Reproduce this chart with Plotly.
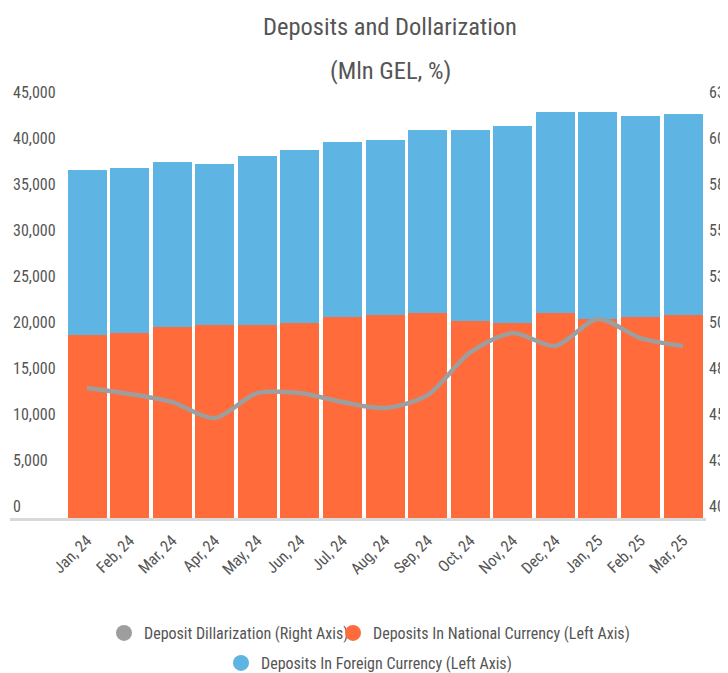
import plotly.graph_objects as go

months = ["Jan, 24", "Feb, 24", "Mar, 24", "Apr, 24", "May, 24", "Jun, 24", "Jul, 24",
          "Aug, 24", "Sep, 24", "Oct, 24", "Nov, 24", "Dec, 24", "Jan, 25", "Feb, 25", "Mar, 25"]
national = [19890, 20110, 20760, 20980, 20980, 21200, 21850, 22070, 22280, 21410, 21200,
            22280, 21630, 21850, 22070]
foreign = [17940, 17930, 17940, 17500, 18370, 18800, 19020, 19020, 19890, 20760, 21410,
           21850, 22500, 21850, 21840]
dollarization = [47.07, 46.74, 46.30, 45.43, 46.79, 46.79, 46.30, 45.98, 46.68, 49.0,
                 50.05, 49.35, 50.82, 49.78, 49.35]

left_ticks = [0, 5000, 10000, 15000, 20000, 25000, 30000, 35000, 40000, 45000]
right_ticks = [40, 42.5, 45, 47.5, 50, 52.5, 55, 57.5, 60, 62.5]
right_text = ["40", "43", "45", "48", "50", "53", "55", "58", "60", "63"]

FONT = "Liberation Sans Narrow, Roboto Condensed, DejaVu Sans Condensed, sans-serif"
ORANGE = "#FF6B3A"
BLUE = "#5EB5E4"
GRAY = "#9E9E9E"
TXT = "#555555"

# the page body adds an 8px offset; figure coordinates = reference pixels - 8
OFF = 8
W, H = 728 - OFF, 673 - OFF
PLOT_L, PLOT_R, PLOT_T, PLOT_B = 10 - OFF, 706 - OFF, 68, 518 - OFF
PX_PER_LEFT = 414 / 45000
PX_PER_RIGHT = 414 / 22.5
LEFT_TOP = (PLOT_B - PLOT_T) / PX_PER_LEFT
RIGHT_TOP = 40 + (PLOT_B - PLOT_T) / PX_PER_RIGHT


def px_x(px):
    return (px - OFF - PLOT_L) / (PLOT_R - PLOT_L)


def px_y(py):
    return (PLOT_B - (py - OFF)) / (PLOT_B - PLOT_T)


def leg(left_px, top_px):
    # legend box anchored by its left/top edge, reference pixel coordinates
    return dict(orientation="h", x=(left_px - OFF) / W, xanchor="left", xref="container",
                y=1 - (top_px - OFF) / H, yanchor="top", yref="container",
                font=dict(size=16, color=TXT), itemwidth=30, bgcolor="rgba(0,0,0,0)")


fig = go.Figure()
fig.add_trace(go.Bar(x=months, y=national, marker_color=ORANGE, marker_line_width=0,
                     name="Deposits In National Currency (Left Axis)", showlegend=False))
fig.add_trace(go.Bar(x=months, y=foreign, marker_color=BLUE, marker_line_width=0,
                     name="Deposits In Foreign Currency (Left Axis)", showlegend=False))
fig.add_trace(go.Scatter(x=months, y=dollarization, yaxis="y2", mode="lines",
                         line=dict(color=GRAY, width=4.5, shape="spline", smoothing=0.8),
                         name="Deposit Dillarization (Right Axis)", showlegend=False))

# legend-only entries with circle symbols
fig.add_trace(go.Scatter(x=[None], y=[None], mode="markers", marker=dict(color=GRAY, size=16),
                         name="Deposit Dillarization (Right Axis)", legend="legend"))
fig.add_trace(go.Scatter(x=[None], y=[None], mode="markers", marker=dict(color=ORANGE, size=16),
                         name="Deposits In National Currency (Left Axis)", legend="legend3"))
fig.add_trace(go.Scatter(x=[None], y=[None], mode="markers", marker=dict(color=BLUE, size=16),
                         name="Deposits In Foreign Currency (Left Axis)", legend="legend2"))

fig.update_layout(
    width=W, height=H,
    paper_bgcolor="white", plot_bgcolor="white",
    barmode="stack", bargap=0.084,
    margin=dict(l=PLOT_L, r=W - PLOT_R, t=PLOT_T, b=H - PLOT_B, autoexpand=False),
    font=dict(family=FONT, color=TXT, size=15),
    xaxis=dict(type="category", range=[-1.809, 14.54], tickangle=-45,
               showline=True, linecolor="#D9D9D9", linewidth=3, showgrid=False,
               ticks="", tickfont=dict(size=16, color=TXT), ticklabelstandoff=4),
    yaxis=dict(range=[0, LEFT_TOP], tickvals=left_ticks, tickformat=",",
               showgrid=False, zeroline=False, ticklabelposition="inside top",
               tickfont=dict(size=16, color=TXT)),
    yaxis2=dict(range=[40, RIGHT_TOP], overlaying="y", side="right", tickvals=right_ticks,
                ticktext=right_text, showgrid=False, zeroline=False,
                ticklabelposition="outside top", tickfont=dict(size=16, color=TXT),
                ticklabelstandoff=2),
    legend=leg(104, 616),
    legend3=leg(333, 616),
    legend2=leg(221, 646),
    annotations=[
        dict(text="Deposits and Dollarization", x=px_x(390), y=px_y(27),
             xref="paper", yref="paper", xanchor="center", yanchor="middle",
             showarrow=False, font=dict(size=24.5, color=TXT, family=FONT)),
        dict(text="(Mln GEL, %)", x=px_x(390), y=px_y(70),
             xref="paper", yref="paper", xanchor="center", yanchor="middle",
             showarrow=False, font=dict(size=24.5, color=TXT, family=FONT)),
    ],
)

fig.write_html("out.html")
